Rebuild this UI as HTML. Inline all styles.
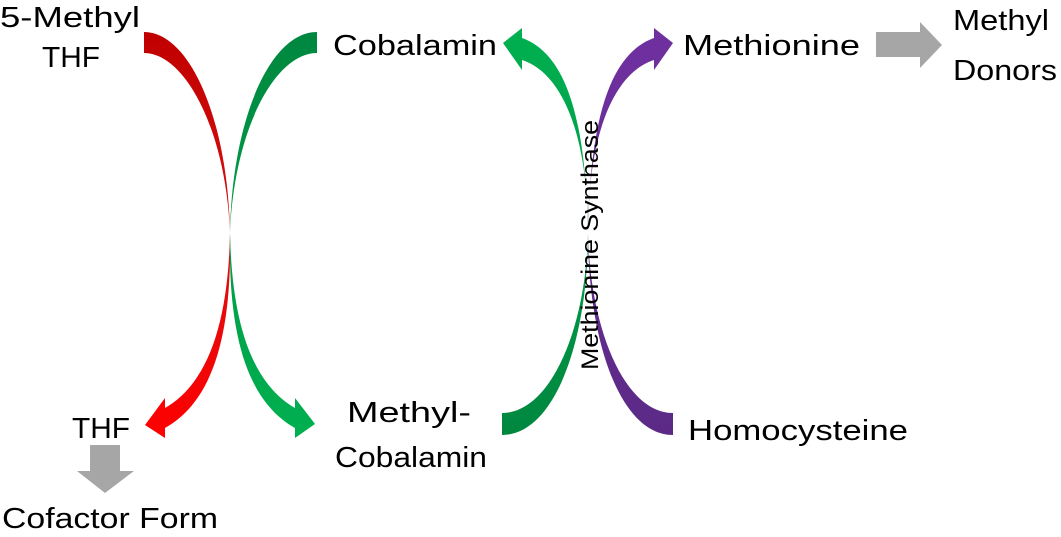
<!DOCTYPE html>
<html><head><meta charset="utf-8"><style>
html,body{margin:0;padding:0;background:#fff;}
svg{display:block;}
text{font-family:"Liberation Sans",sans-serif;font-size:29px;fill:#000;}
</style></head><body>
<svg width="1061" height="537" viewBox="0 0 1061 537" xmlns="http://www.w3.org/2000/svg">
<defs>
<linearGradient id="gr" x1="0" y1="0" x2="0" y2="1"><stop offset="0" stop-color="#c00000"/><stop offset="0.5" stop-color="#d81010"/><stop offset="1" stop-color="#ff0000"/></linearGradient>
<linearGradient id="gg" x1="0" y1="0" x2="0" y2="1"><stop offset="0" stop-color="#00873f"/><stop offset="1" stop-color="#00b050"/></linearGradient>
<linearGradient id="gg2" x1="0" y1="1" x2="0" y2="0"><stop offset="0" stop-color="#00873f"/><stop offset="1" stop-color="#00b050"/></linearGradient>
<linearGradient id="gp" x1="0" y1="0" x2="0" y2="1"><stop offset="0" stop-color="#7030a0"/><stop offset="1" stop-color="#5b2a86"/></linearGradient>
</defs>
<!-- red -->
<path fill="url(#gr)" d="M144,32 C190,32 228,120 230,233 C232,330 215,400 165,428 L165,438 L145,425 L165,398 L165,408 C205,385 228,330 230,233 C226,130 185,53 144,53 Z"/>
<!-- green left -->
<path fill="url(#gg)" d="M317,32 C270,32 232,120 230,233 C228,330 245,400 295,428 L295,438 L315,424 L295,398 L295,408 C255,385 232,330 230,233 C234,130 275,53 317,53 Z"/>
<!-- green right (up) -->
<path fill="url(#gg2)" d="M502,435 C555,435 588,340 588,233 C588,130 560,72 522,60 L522,70 L503,43 L522,28 L522,38 C570,55 586,130 588,233 C586,330 550,413 502,413 Z"/>
<!-- purple -->
<path fill="url(#gp)" d="M673,435 C620,435 588,340 588,233 C588,130 616,72 654,60 L654,70 L673,43 L654,28 L654,38 C606,55 590,130 588,233 C590,330 625,413 673,413 Z"/>
<!-- grey arrows -->
<path fill="#a6a6a6" d="M876,32 L920,32 L920,22 L942,45 L920,68 L920,57 L876,57 Z"/>
<path fill="#a6a6a6" d="M90,445 L120,445 L120,471 L134,471 L105,493 L77,471 L90,471 Z"/>
<text x="0" y="27" textLength="140" lengthAdjust="spacingAndGlyphs">5-Methyl</text>
<text x="42" y="67" textLength="58" lengthAdjust="spacingAndGlyphs">THF</text>
<text x="333" y="55" textLength="164" lengthAdjust="spacingAndGlyphs">Cobalamin</text>
<text x="683" y="55" textLength="177" lengthAdjust="spacingAndGlyphs">Methionine</text>
<text x="953" y="30" textLength="96" lengthAdjust="spacingAndGlyphs">Methyl</text>
<text x="953" y="80" textLength="104" lengthAdjust="spacingAndGlyphs">Donors</text>
<text x="72" y="438" textLength="58" lengthAdjust="spacingAndGlyphs">THF</text>
<text x="2" y="528" textLength="216" lengthAdjust="spacingAndGlyphs">Cofactor Form</text>
<text x="347" y="422" textLength="124" lengthAdjust="spacingAndGlyphs">Methyl-</text>
<text x="335" y="467" textLength="152" lengthAdjust="spacingAndGlyphs">Cobalamin</text>
<text x="688" y="440" textLength="220" lengthAdjust="spacingAndGlyphs">Homocysteine</text>
<text transform="translate(598,370) rotate(-90)" style="font-size:24px" textLength="250" lengthAdjust="spacingAndGlyphs">Methionine Synthase</text>
</svg>
</body></html>
